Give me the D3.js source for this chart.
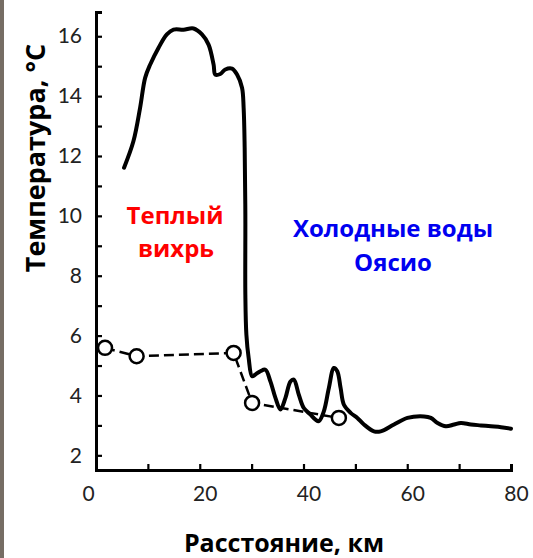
<!DOCTYPE html>
<html>
<head>
<meta charset="utf-8">
<script src="https://cdn.jsdelivr.net/npm/d3@7"></script>
<style>
  body { margin: 0; background: #fff; }
  svg { display: block; }
</style>
</head>
<body>
<svg id="chart" width="533" height="558"></svg>
<script>
// solid line: surface temperature across the eddy
var distKm = [5.41, 7.21, 8.50, 9.47, 10.43, 12.04, 13.66, 14.94, 16.87, 18.80, 20.43, 21.70,
  22.67, 23.00, 23.96, 24.93, 26.22, 27.19, 28.15, 28.46, 28.66, 28.79, 28.79, 28.99, 29.43,
  30.09, 30.72, 31.69, 32.66, 33.62, 34.59, 35.56, 36.52, 37.49, 38.13, 39.09, 40.06, 41.35,
  42.32, 42.96, 43.92, 44.89, 45.86, 46.51, 47.15, 47.79, 49.08, 50.38, 51.65, 53.59, 54.88,
  57.45, 60.04, 63.25, 64.54, 65.84, 67.44, 69.04, 70.34, 72.27, 74.20, 76.14, 78.07, 80.0]
var tempC = [11.61, 12.49, 13.61, 14.61, 15.05, 15.61, 16.06, 16.22, 16.22, 16.26, 16.06, 15.72,
  15.05, 14.72, 14.74, 14.89, 14.92, 14.72, 14.28, 13.61, 12.27, 10.04, 7.37, 6.03, 5.25,
  4.64, 4.70, 4.81, 4.86, 4.47, 3.92, 3.53, 3.92, 4.47, 4.53, 4.03, 3.58, 3.36,
  3.19, 3.14, 3.47, 4.25, 4.92, 4.81, 4.25, 3.69, 3.42, 3.25, 3.03, 2.80, 2.80,
  3.03, 3.25, 3.30, 3.25, 3.08, 2.97, 3.03, 3.08, 3.03, 3.00, 2.97, 2.94, 2.89]

// dashed line with circles
var pointKm = [1.74, 7.83, 26.53, 30.09, 46.82]
var pointTemp = [5.59, 5.31, 5.42, 3.75, 3.25]

var xTicks = [0, 10, 20, 30, 40, 50, 60, 70, 80]
var xLabels = [0, 20, 40, 60, 80]
var yTicks = d3.range(2, 17, 1)
var yLabels = [2, 4, 6, 8, 10, 12, 14, 16]

var svg = d3.select("#chart")

// scanned border on the left
svg.append("rect")
  .attr("x", 0).attr("y", 0)
  .attr("width", 4).attr("height", 558)
  .attr("fill", "#766d64")

var x = d3.scaleLinear().domain([0, 80]).range([96, 511])
var y = d3.scaleLinear().domain([1.51, 16.81]).range([470, 12])

// axes
var xAxis = svg.append("g")
  .attr("transform", "translate(0,470)")
  .call(d3.axisBottom(x)
    .tickValues(xTicks)
    .tickSizeInner(-6)
    .tickSizeOuter(-6)
    .tickPadding(16)
    .tickFormat(function(d) { return xLabels.indexOf(d) >= 0 ? d : "" }))

var yAxis = svg.append("g")
  .attr("transform", "translate(96,0)")
  .call(d3.axisLeft(y)
    .tickValues(yTicks)
    .tickSizeInner(-6)
    .tickSizeOuter(-6)
    .tickPadding(14)
    .tickFormat(function(d) { return yLabels.indexOf(d) >= 0 ? d : "" }))

svg.selectAll(".domain")
  .attr("stroke", "#000")
  .attr("stroke-width", 3)
svg.selectAll(".tick line")
  .attr("stroke", "#000")
  .attr("stroke-width", 2.2)
svg.selectAll(".tick text")
  .attr("fill", "#222")
  .style("font-family", "Lato, 'DejaVu Sans', sans-serif")
  .style("font-size", "21px")

// labels in the source sit a little right of their ticks
xAxis.selectAll(".tick text")
  .attr("dx", function(d) { return d === 0 ? -8 : 5 })

// dashed series
var dashLine = d3.line()
  .x(function(d, i) { return x(pointKm[i]) })
  .y(function(d, i) { return y(pointTemp[i]) })

svg.append("path")
  .attr("d", dashLine(pointKm))
  .attr("fill", "none")
  .attr("stroke", "#000")
  .attr("stroke-width", 2.5)
  .attr("stroke-dasharray", "10,5")

// solid series
var tempLine = d3.line()
  .x(function(d, i) { return x(distKm[i]) })
  .y(function(d, i) { return y(tempC[i]) })
  .curve(d3.curveCatmullRom.alpha(0.5))

svg.append("path")
  .attr("d", tempLine(distKm))
  .attr("fill", "none")
  .attr("stroke", "#000")
  .attr("stroke-width", 4)
  .attr("stroke-linejoin", "round")
  .attr("stroke-linecap", "round")

svg.selectAll(".pt")
  .data(pointKm)
  .enter().append("circle")
  .attr("class", "pt")
  .attr("cx", function(d) { return x(d) })
  .attr("cy", function(d, i) { return y(pointTemp[i]) })
  .attr("r", 7)
  .attr("fill", "#fff")
  .attr("stroke", "#000")
  .attr("stroke-width", 2.5)

// titles
var bold = "'Open Sans', 'Noto Sans', sans-serif"

svg.append("text")
  .attr("transform", "translate(45,158) rotate(-90)")
  .attr("text-anchor", "middle")
  .style("font-family", bold)
  .style("font-weight", "bold")
  .style("font-size", "27px")
  .text("Температура, °С")

svg.append("text")
  .attr("x", 284).attr("y", 552)
  .attr("text-anchor", "middle")
  .style("font-family", bold)
  .style("font-weight", "bold")
  .style("font-size", "25px")
  .text("Расстояние, км")

// annotations
var warm = svg.append("text")
  .attr("text-anchor", "middle")
  .attr("fill", "#ff0000")
  .style("font-family", bold)
  .style("font-weight", "bold")
  .style("font-size", "24px")
warm.append("tspan").attr("x", 175).attr("y", 224).text("Теплый")
warm.append("tspan").attr("x", 176).attr("y", 257).text("вихрь")

var cold = svg.append("text")
  .attr("text-anchor", "middle")
  .attr("fill", "#0000f0")
  .style("font-family", bold)
  .style("font-weight", "bold")
  .style("font-size", "24px")
cold.append("tspan").attr("x", 393).attr("y", 237).text("Холодные воды")
cold.append("tspan").attr("x", 393).attr("y", 271).text("Оясио")
</script>
</body>
</html>
